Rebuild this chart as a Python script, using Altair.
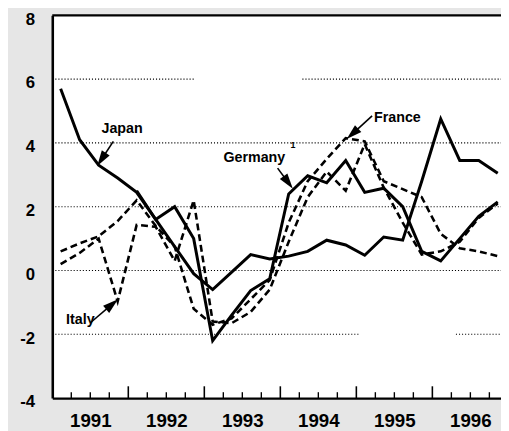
import math
import altair as alt
import pandas as pd

# ---------------- data (quarterly, 1991Q1 .. 1996Q4) ----------------
years = [1991, 1992, 1993, 1994, 1995, 1996]
quarter_pos = [0.11, 0.36, 0.61, 0.86]          # position of each quarter's point inside its year

japan = [5.70, 4.10, 3.30, 2.90,
         2.45, 1.60, 0.75, -0.10,
         -0.60, -0.05, 0.50, 0.36,
         0.45, 0.60, 0.95, 0.80,
         0.48, 1.05, 0.95, 2.80,
         4.75, 3.45, 3.45, 3.05]
germany = [None, None, None, None,
           2.50, 1.60, 2.00, 1.00,
           -2.20, -1.40, -0.63, -0.26,
           2.40, 2.97, 2.75, 3.45,
           2.45, 2.58, 2.00, 0.60,
           0.30, 1.00, 1.70, 2.15]
france = [0.60, 0.85, 1.07, 1.55,
          2.20, 1.40, 0.75, -1.20,
          -1.70, -1.50, -0.90, -0.30,
          1.50, 2.80, 3.50, 4.15,
          4.05, 2.80, 2.55, 2.30,
          1.15, 0.70, 0.60, 0.45]
italy = [0.20, 0.55, 1.00, -0.97,
         1.43, 1.37, 0.30, 2.20,
         -1.60, -1.65, -1.30, -0.60,
         0.90, 2.30, 3.10, 2.50,
         3.96, 2.60, 1.50, 0.50,
         0.60, 0.90, 1.65, 2.10]

y_ticks = [-4, -2, 0, 2, 4, 6, 8]
year_label_pos = [1991.5, 1992.5, 1993.5, 1994.5, 1995.5, 1996.5]
major_ticks = [1992, 1993, 1994, 1995, 1996]
minor_ticks = [y + q / 4 for y in years for q in (1, 2, 3)]

# ---------------- layout ----------------
W, H = 456, 389
X0, X1 = 1991.0, 1991.0 + 456 / 77.25
Y0, Y1 = -4, 8
PX_X = W / (X1 - X0)
PX_Y = H / (Y1 - Y0)

rows = []
for name, vals in [("Japan", japan), ("Germany", germany), ("France", france), ("Italy", italy)]:
    for i, v in enumerate(vals):
        if v is not None:
            rows.append({"country": name, "t": years[i // 4] + quarter_pos[i % 4], "v": v, "i": i})
df = pd.DataFrame(rows)

# dotted gridlines (with the gaps of the original)
grid = pd.DataFrame([
    {"g": 6, "a": X0, "b": 1992.88}, {"g": 6, "a": 1994.29, "b": X1},
    {"g": 4, "a": X0, "b": X1},
    {"g": 2, "a": X0, "b": X1},
    {"g": 0, "a": X0, "b": X1},
    {"g": -2, "a": X0, "b": 1995.04}, {"g": -2, "a": 1996.31, "b": X1},
])

# annotations (data coordinates)
labels = pd.DataFrame([
    {"txt": "Japan", "x": 1991.647, "y": 4.31},
    {"txt": "Germany", "x": 1993.252, "y": 3.40},
    {"txt": "France", "x": 1995.233, "y": 4.66},
    {"txt": "Italy", "x": 1991.181, "y": -1.69},
])
sup = pd.DataFrame([{"txt": "1", "x": 1994.133, "y": 3.83}])
arrows = [
    # start (x, y), tip (x, y)
    (1991.803, 4.05, 1991.608, 3.34),
    (1993.964, 3.21, 1994.146, 2.62),
    (1995.207, 4.85, 1994.896, 4.17),
    (1991.505, -1.63, 1991.841, -0.95),
]
HEAD = "M0,-1L-0.6,1L0.6,1Z"
HEAD_SIZE = 250
HEAD_LEN = 11.0          # drawn length of the head in pixels
arr_rows, head_rows = [], []
for x1, y1, x2, y2 in arrows:
    dx = (x2 - x1) * PX_X
    dy = -(y2 - y1) * PX_Y
    L = math.hypot(dx, dy)
    ux, uy = dx / L, dy / L
    ang = math.degrees(math.atan2(dx, -dy)) % 360
    hx = x2 - ux * (HEAD_LEN / 2) / PX_X
    hy = y2 + uy * (HEAD_LEN / 2) / PX_Y
    bx = x2 - ux * (HEAD_LEN - 1) / PX_X
    by = y2 + uy * (HEAD_LEN - 1) / PX_Y
    arr_rows.append({"x": x1, "y": y1, "x2": bx, "y2": by})
    head_rows.append({"x": hx, "y": hy, "ang": ang})
arr_df = pd.DataFrame(arr_rows)
head_df = pd.DataFrame(head_rows)

FONT = "Liberation Sans"
xs = alt.Scale(domain=[X0, X1], nice=False, zero=False)
ys = alt.Scale(domain=[Y0, Y1], nice=False, zero=False)

x_axis = alt.Axis(values=year_label_pos, labelExpr="floor(datum.value)", ticks=False, grid=False,
                  domainColor="black", domainWidth=2.2, labelFontSize=19, labelFontWeight="bold",
                  labelFont=FONT, labelColor="black", labelPadding=14, title=None, labelFlush=False)
y_axis = alt.Axis(values=y_ticks, labelExpr="'' + datum.value", ticks=False, grid=False,
                  domainColor="black", domainWidth=2.6, labelFontSize=17, labelFontWeight="bold",
                  labelFont=FONT, labelColor="black", labelPadding=18, labelOffset=4, title=None)

grid_layer = alt.Chart(grid).mark_rule(color="black", strokeWidth=1.1, strokeDash=[1.1, 2.0]).encode(
    x=alt.X("a:Q", scale=xs, axis=x_axis), x2="b:Q", y=alt.Y("g:Q", scale=ys, axis=y_axis))

top_border = alt.Chart(pd.DataFrame({"v": [Y1]})).mark_rule(color="black", strokeWidth=2.2).encode(
    y=alt.Y("v:Q", scale=ys))

major_layer = alt.Chart(pd.DataFrame({"p": major_ticks})).mark_rule(
    color="black", strokeWidth=1.6, y2Offset=-12).encode(
    x=alt.X("p:Q", scale=xs), y=alt.datum(Y0), y2=alt.datum(Y0))
minor_layer = alt.Chart(pd.DataFrame({"p": minor_ticks})).mark_rule(
    color="black", strokeWidth=1.4, y2Offset=-6).encode(
    x=alt.X("p:Q", scale=xs), y=alt.datum(Y0), y2=alt.datum(Y0))

solid = alt.Chart(df).transform_filter(
    alt.FieldOneOfPredicate(field="country", oneOf=["Japan", "Germany"])
).mark_line(color="black", strokeWidth=3, strokeJoin="miter").encode(
    x=alt.X("t:Q", scale=xs), y=alt.Y("v:Q", scale=ys), detail="country:N", order="i:Q")

dashed = alt.Chart(df).transform_filter(
    alt.FieldOneOfPredicate(field="country", oneOf=["France", "Italy"])
).mark_line(color="black", strokeWidth=2.6, strokeDash=[7, 4], strokeJoin="miter").encode(
    x=alt.X("t:Q", scale=xs), y=alt.Y("v:Q", scale=ys), detail="country:N", order="i:Q")

text_layer = alt.Chart(labels).mark_text(align="left", baseline="alphabetic", font=FONT,
                                         fontSize=14.5, fontWeight="bold", color="black").encode(
    x=alt.X("x:Q", scale=xs), y=alt.Y("y:Q", scale=ys), text="txt:N")
sup_layer = alt.Chart(sup).mark_text(align="left", baseline="alphabetic", font=FONT,
                                     fontSize=9, fontWeight="bold", color="black").encode(
    x=alt.X("x:Q", scale=xs), y=alt.Y("y:Q", scale=ys), text="txt:N")

arrow_lines = alt.Chart(arr_df).mark_rule(color="black", strokeWidth=1.6).encode(
    x=alt.X("x:Q", scale=xs), y=alt.Y("y:Q", scale=ys), x2="x2:Q", y2="y2:Q")
arrow_heads = alt.Chart(head_df).mark_point(shape=HEAD, filled=True, color="black",
                                            opacity=1, size=HEAD_SIZE).encode(
    x=alt.X("x:Q", scale=xs), y=alt.Y("y:Q", scale=ys), angle=alt.Angle("ang:Q", scale=None))

chart = alt.layer(
    grid_layer, top_border, major_layer, minor_layer, dashed, solid,
    arrow_lines, arrow_heads, text_layer, sup_layer
).properties(
    width=W, height=H,
    autosize=alt.AutoSizeParams(type="none"),
    padding={"left": 45, "top": 4, "right": 0, "bottom": 30},
    background="#e6e6e6",
).configure_view(fill="white", stroke="transparent")

chart.save("out.html", embed_options={"renderer": "svg", "actions": False})
